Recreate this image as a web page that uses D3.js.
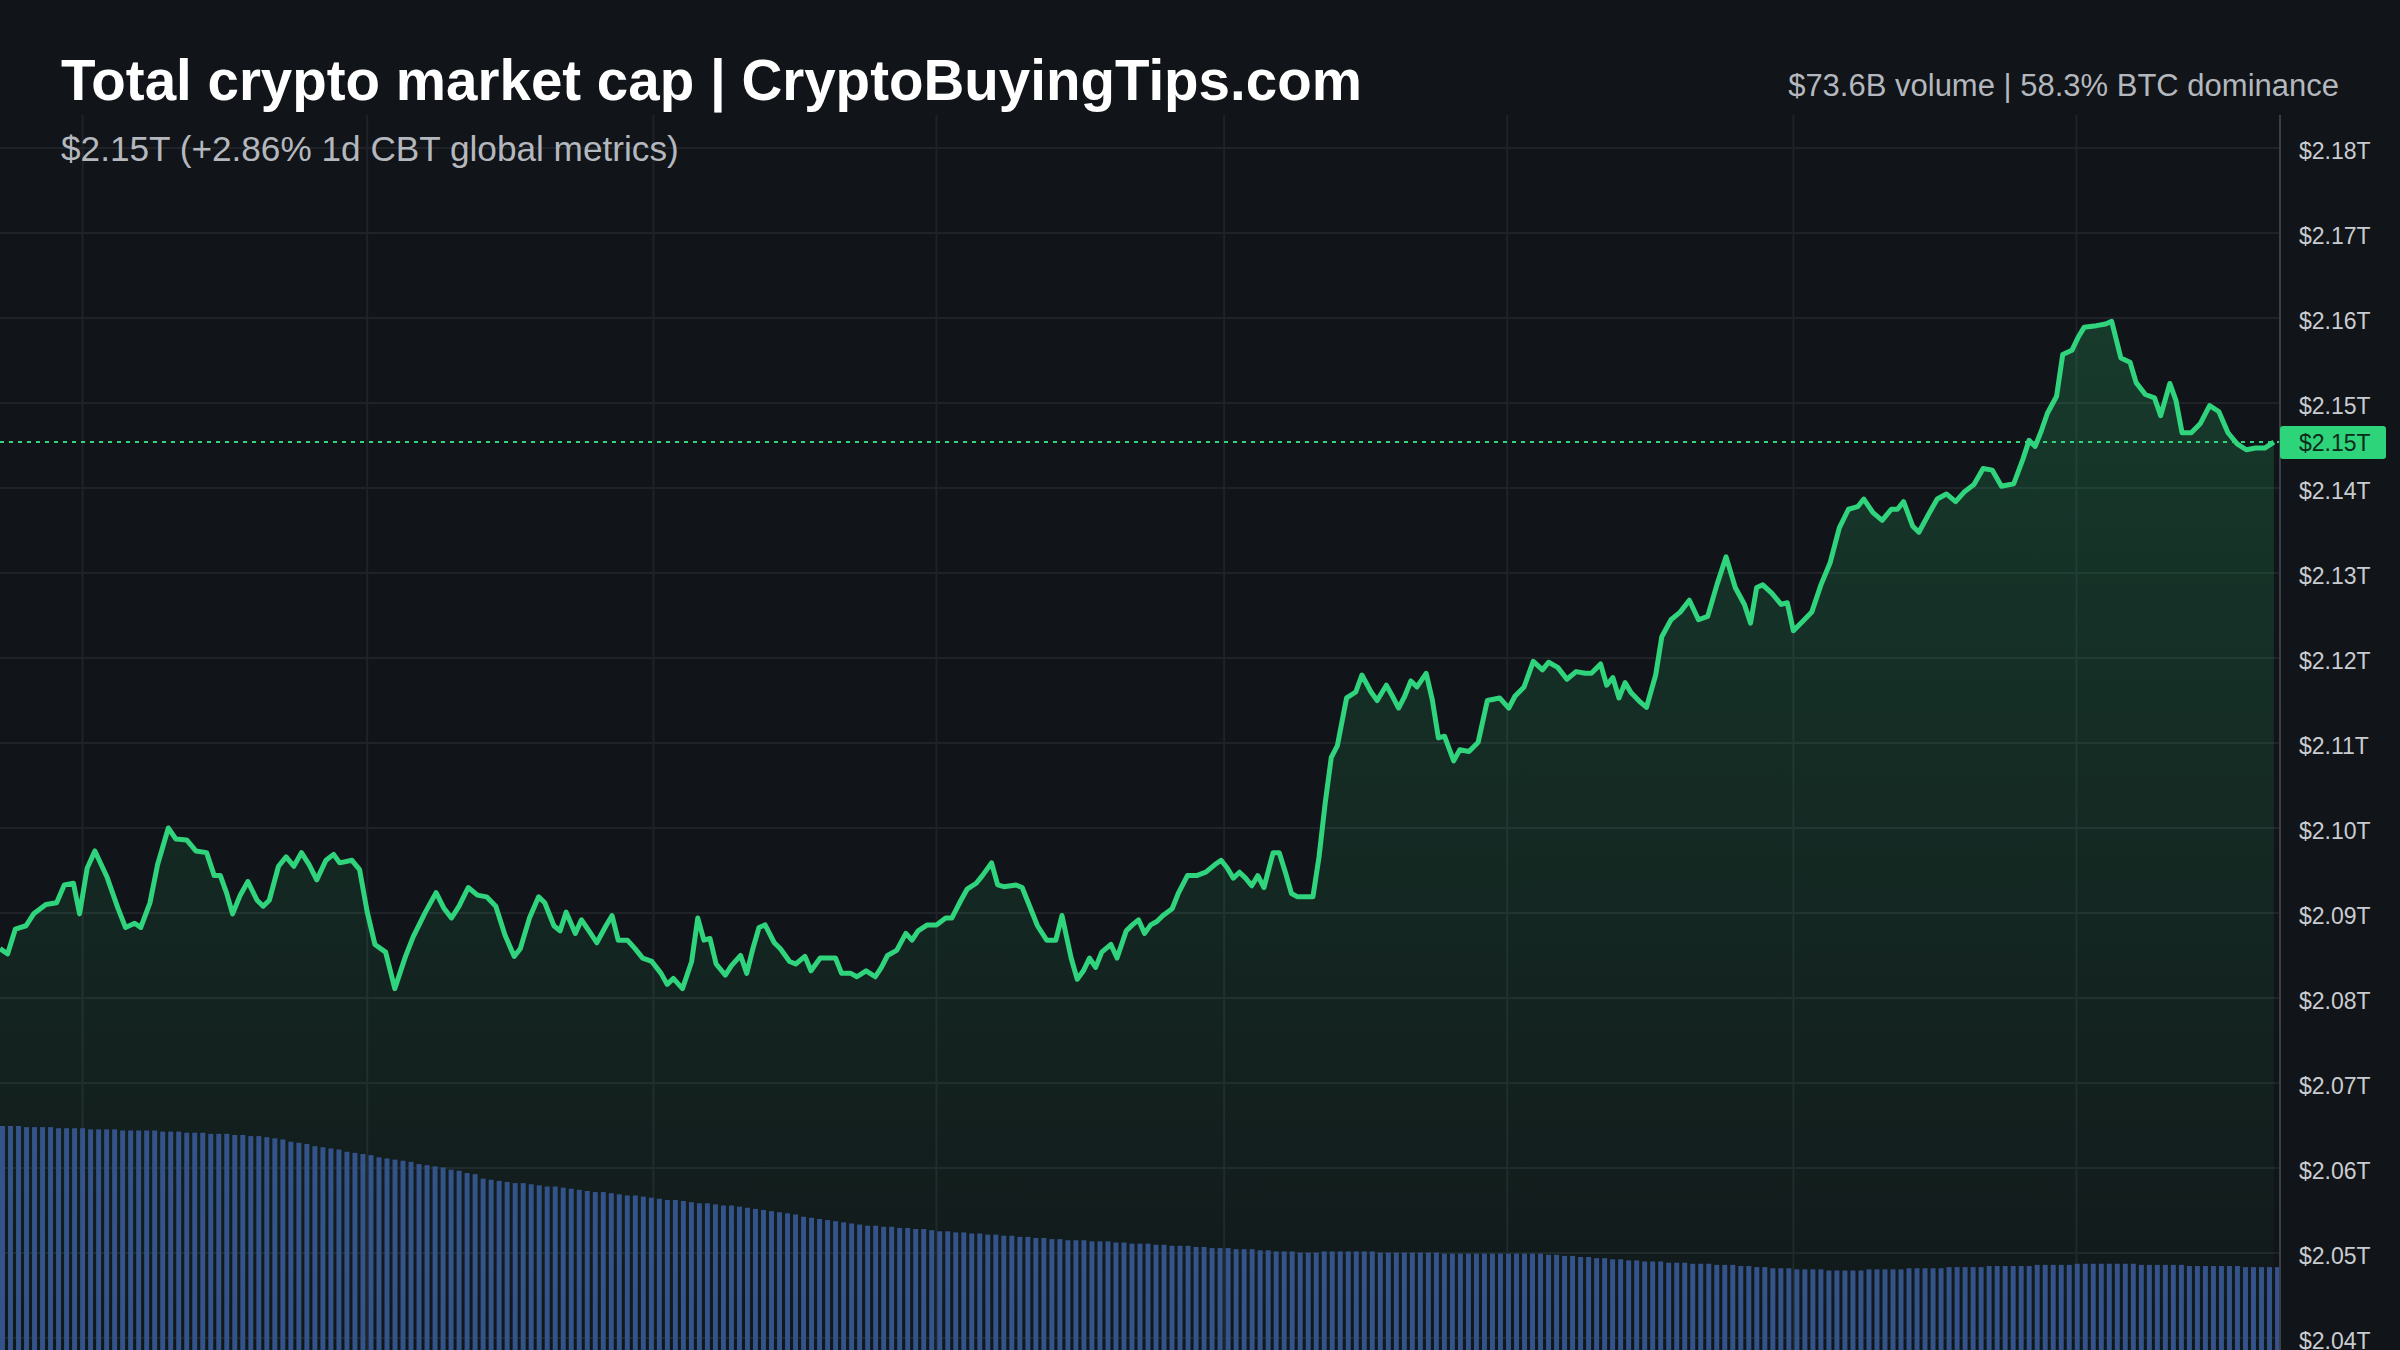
<!DOCTYPE html>
<html><head><meta charset="utf-8">
<script src="https://cdn.jsdelivr.net/npm/d3@7"></script>
<style>html,body{margin:0;padding:0;background:#111418;}svg{display:block;}</style>
</head><body>
<script>
// time position (chart time units, 0..1490) and total market cap in $T
const timePos = [0,5,10,17,22,30,37,42,48,52,57,62,70,77,82,88,92,98,103,110,115,122,128,135,140,144,148,152,157,162,168,172,176,182,187,192,197,202,207,213,218,222,230,235,240,245,252,258,265,270,278,285,290,295,300,306,312,318,324,330,336,340,346,352,356,362,366,370,376,380,386,390,396,400,404,410,415,420,426,432,436,440,446,452,456,460,464,468,474,478,484,488,492,496,500,506,510,516,520,526,530,536,540,546,550,556,560,566,572,576,580,586,592,596,600,606,612,618,622,628,632,638,642,648,652,656,664,668,672,678,684,690,694,700,704,708,712,716,720,726,730,736,740,744,748,752,756,760,766,770,776,782,788,794,798,802,806,810,814,818,822,826,832,836,840,844,848,854,858,862,866,870,874,880,886,890,896,900,906,910,914,918,922,926,932,936,940,944,950,954,960,966,972,980,986,990,996,1002,1008,1012,1018,1024,1030,1036,1040,1046,1050,1054,1058,1062,1066,1072,1076,1082,1086,1092,1098,1104,1110,1116,1122,1128,1134,1140,1144,1148,1152,1158,1164,1168,1172,1178,1184,1190,1196,1202,1208,1214,1218,1224,1230,1236,1240,1244,1250,1254,1260,1266,1272,1278,1284,1290,1296,1302,1308,1316,1322,1326,1330,1334,1338,1344,1348,1354,1358,1362,1370,1376,1380,1386,1392,1396,1402,1408,1412,1418,1422,1426,1432,1438,1444,1450,1456,1462,1468,1474,1480,1486];
const marketCap = [2.0858,2.0852,2.0881,2.0885,2.0899,2.0910,2.0912,2.0933,2.0935,2.0899,2.0953,2.0973,2.0942,2.0906,2.0883,2.0888,2.0883,2.0912,2.0957,2.1000,2.0987,2.0986,2.0973,2.0971,2.0944,2.0944,2.0924,2.0899,2.0921,2.0937,2.0915,2.0908,2.0915,2.0955,2.0966,2.0955,2.0971,2.0957,2.0939,2.0962,2.0969,2.0959,2.0962,2.0951,2.0901,2.0863,2.0854,2.0811,2.0849,2.0872,2.0901,2.0924,2.0906,2.0894,2.0908,2.0930,2.0921,2.0919,2.0908,2.0874,2.0849,2.0858,2.0894,2.0919,2.0912,2.0885,2.0879,2.0901,2.0876,2.0892,2.0876,2.0865,2.0885,2.0897,2.0868,2.0868,2.0858,2.0847,2.0843,2.0829,2.0816,2.0823,2.0811,2.0843,2.0894,2.0868,2.0870,2.0840,2.0827,2.0838,2.0850,2.0829,2.0858,2.0883,2.0886,2.0865,2.0858,2.0843,2.0840,2.0849,2.0832,2.0847,2.0847,2.0847,2.0829,2.0829,2.0825,2.0832,2.0825,2.0836,2.0850,2.0856,2.0876,2.0868,2.0879,2.0886,2.0886,2.0894,2.0894,2.0915,2.0928,2.0935,2.0944,2.0959,2.0933,2.0931,2.0933,2.0930,2.0912,2.0885,2.0868,2.0868,2.0897,2.0847,2.0822,2.0832,2.0847,2.0836,2.0854,2.0863,2.0847,2.0879,2.0886,2.0892,2.0876,2.0886,2.0890,2.0897,2.0905,2.0923,2.0944,2.0944,2.0948,2.0957,2.0962,2.0953,2.0941,2.0948,2.0941,2.0932,2.0944,2.0930,2.0971,2.0971,2.0948,2.0923,2.0919,2.0919,2.0919,2.0966,2.1029,2.1083,2.1097,2.1153,2.1160,2.1180,2.1160,2.1150,2.1168,2.1155,2.1141,2.1155,2.1173,2.1166,2.1182,2.1151,2.1106,2.1108,2.1079,2.1092,2.1090,2.1101,2.1150,2.1153,2.1141,2.1155,2.1166,2.1196,2.1186,2.1195,2.1189,2.1175,2.1184,2.1182,2.1182,2.1193,2.1168,2.1177,2.1153,2.1171,2.1159,2.1148,2.1142,2.1180,2.1225,2.1245,2.1254,2.1268,2.1245,2.1249,2.1286,2.1319,2.1283,2.1263,2.1241,2.1283,2.1286,2.1276,2.1263,2.1265,2.1232,2.1243,2.1254,2.1286,2.1312,2.1353,2.1375,2.1378,2.1387,2.1371,2.1362,2.1375,2.1375,2.1384,2.1355,2.1348,2.1368,2.1387,2.1393,2.1384,2.1396,2.1404,2.1423,2.1421,2.1402,2.1405,2.1434,2.1456,2.1449,2.1467,2.1488,2.1508,2.1557,2.1562,2.1577,2.1589,2.1591,2.1593,2.1596,2.1553,2.1548,2.1524,2.1510,2.1506,2.1485,2.1523,2.1503,2.1465,2.1465,2.1476,2.1497,2.1490,2.1465,2.1452,2.1445,2.1447,2.1447,2.1454];
// rolling volume bars ($B), one per interval
const volume = [200,200,200,199,199,199,199,198,198,198,198,197,197,197,197,196,196,196,196,196,195,195,195,194,194,194,193,193,193,192,192,191,191,
190,189,188,186,185,184,182,181,180,179,177,176,175,174,
172,171,170,169,168,166,165,164,163,161,160,158,157,
153,152,151,150,149,149,148,147,146,146,145,144,143,142,141,141,140,
139,138,138,137,136,135,134,134,133,132,131,131,130,129,129,128,
127,126,125,124,123,122,121,119,118,117,116,115,114,113,112,
111,111,110,110,109,109,108,108,107,106,106,105,105,104,104,103,103,102,102,101,101,100,100,99,99,98,98,
98,97,97,97,96,96,95,95,95,94,94,93,93,93,92,92,91,91,91,90,90,90,89,89,88,88,88,87,87,
87,88,88,88,88,88,88,88,87,87,87,87,87,87,87,87,86,86,86,86,86,86,86,86,86,86,86,86,
86,85,85,84,84,83,83,82,82,81,81,80,80,79,79,79,78,78,78,
77,77,77,76,76,76,75,75,74,74,73,73,73,72,72,72,72,71,71,
71,71,71,72,72,72,72,72,73,73,73,73,73,74,74,74,74,74,75,75,75,75,75,75,76,76,76,
76,76,77,77,77,77,77,77,77,77,76,76,76,76,76,76,75,75,75,75,75,75,75,74,74,74,74,74];
const yTicks = [2.04,2.05,2.06,2.07,2.08,2.09,2.10,2.11,2.12,2.13,2.14,2.15,2.16,2.17,2.18];
const xGridTimes = [54,240,427,612,800,985,1172,1357];
const titleText = "Total crypto market cap | CryptoBuyingTips.com";
const subtitleText = "$2.15T (+2.86% 1d CBT global metrics)";
const statsText = "$73.6B volume | 58.3% BTC dominance";

const W=2400,H=1350, plotR=2280;
const svg=d3.select("body").append("svg").attr("width",W).attr("height",H).style("font-family","'Liberation Sans',Arial,sans-serif");
svg.append("rect").attr("width",W).attr("height",H).attr("fill","#111418");

const x=d3.scaleLinear().domain([0,1490]).range([0,plotR]);
const y=d3.scaleLinear().domain([2.04,2.18]).range([1338,148]);
const xb=d3.scaleBand().domain(d3.range(volume.length)).range([0,plotR]).paddingInner(0.38);
const yv=d3.scaleLinear().domain([0,300]).range([H,1014]);

const defs=svg.append("defs");
const g=defs.append("linearGradient").attr("id","ag").attr("x1",0).attr("x2",0).attr("y1",0).attr("y2",1);
g.append("stop").attr("offset","0%").attr("stop-color","#2ed47a").attr("stop-opacity",0.2);
g.append("stop").attr("offset","100%").attr("stop-color","#2ed47a").attr("stop-opacity",0.02);

svg.append("g").selectAll("line").data(yTicks).join("line")
 .attr("x1",0).attr("x2",plotR).attr("y1",d=>y(d)).attr("y2",d=>y(d)).attr("stroke","#1f2328").attr("stroke-width",2);
svg.append("g").selectAll("line").data(xGridTimes).join("line")
 .attr("x1",d=>x(d)).attr("x2",d=>x(d)).attr("y1",115).attr("y2",H).attr("stroke","#1f2328").attr("stroke-width",2);

const pts=timePos.map((t,i)=>({t,v:marketCap[i]}));
svg.append("path").datum(pts).attr("fill","url(#ag)")
 .attr("d",d3.area().x(d=>x(d.t)).y0(H).y1(d=>y(d.v)));

svg.append("g").selectAll("rect").data(volume).join("rect")
 .attr("x",(d,i)=>xb(i)).attr("width",xb.bandwidth()).attr("y",d=>yv(d)).attr("height",d=>H-yv(d)).attr("fill","#34538a");

svg.append("path").datum(pts).attr("fill","none").attr("stroke","#2fd47d").attr("stroke-width",5).attr("stroke-linejoin","round")
 .attr("d",d3.line().x(d=>x(d.t)).y(d=>y(d.v)));

const last=marketCap[marketCap.length-1];
svg.append("line").attr("x1",0).attr("x2",plotR).attr("y1",y(last)).attr("y2",y(last))
 .attr("stroke","#2fd47d").attr("stroke-width",2).attr("stroke-dasharray","4,5");

svg.append("line").attr("x1",plotR).attr("x2",plotR).attr("y1",115).attr("y2",H).attr("stroke","#3a3f46").attr("stroke-width",2);
const ax=svg.append("g").attr("transform",`translate(${plotR},0)`)
 .call(d3.axisRight(y).tickValues(yTicks).tickSize(0).tickPadding(19).tickFormat(d=>"$"+d.toFixed(2)+"T"));
ax.select(".domain").remove();
ax.selectAll("text").attr("fill","#c9ccd1").attr("dy","0.45em").style("font-size","23px").style("font-family","'Liberation Sans',Arial,sans-serif");

svg.append("rect").attr("x",plotR).attr("y",y(last)-16).attr("width",106).attr("height",33).attr("rx",3).attr("fill","#2ed47a");
svg.append("text").attr("x",plotR+19).attr("y",y(last)+9).attr("fill","#0d2a1a").style("font-size","23px").text("$"+last.toFixed(2)+"T");

svg.append("text").attr("x",61).attr("y",100).attr("fill","#ffffff").style("font-size","56.5px").style("font-weight","bold").text(titleText);
svg.append("text").attr("x",61).attr("y",161).attr("fill","#b4b8be").style("font-size","35.2px").text(subtitleText);
svg.append("text").attr("x",2339).attr("y",96).attr("text-anchor","end").attr("fill","#b4b8be").style("font-size","31px").text(statsText);
</script>
</body></html>
